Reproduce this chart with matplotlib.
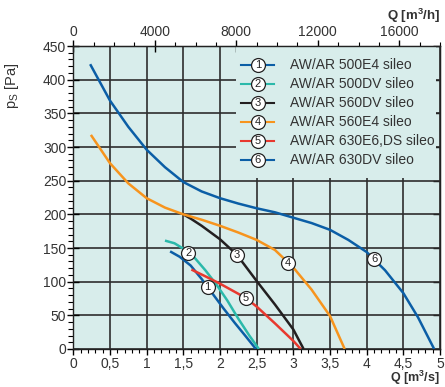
import matplotlib
matplotlib.use("Agg")
import matplotlib.pyplot as plt
from matplotlib.ticker import MultipleLocator, FixedLocator
from matplotlib.patches import Rectangle

# fan curves, Q [m3/s] vs static pressure [Pa]
q1 = [1.32, 1.45, 1.60, 1.75, 1.90, 2.05, 2.20, 2.35, 2.49]
p1 = [145, 137, 124, 104, 82, 60, 39, 19, 0]

q2 = [1.25, 1.38, 1.50, 1.65, 1.80, 1.95, 2.10, 2.25, 2.40, 2.53]
p2 = [161, 157, 149, 136, 117, 96, 72, 45, 20, 0]

q3 = [1.50, 1.61, 1.75, 2.00, 2.23, 2.50, 2.75, 3.00, 3.14]
p3 = [200, 193, 183, 163, 140, 101, 66, 29, 0]

q4 = [0.24, 0.50, 0.75, 1.00, 1.25, 1.50, 1.75, 2.00, 2.25, 2.50, 2.75, 3.00, 3.25, 3.50, 3.70]
p4 = [318, 276, 246, 224, 210, 200, 192, 183, 173, 162, 147, 121, 88, 49, 0]

q5 = [1.61, 1.80, 2.00, 2.20, 2.35, 2.50, 2.75, 3.00, 3.10]
p5 = [118, 108, 97, 85, 76, 63, 38, 12, 0]

q6 = [0.23, 0.50, 0.75, 1.00, 1.25, 1.50, 1.75, 2.00, 2.25, 2.50, 2.75, 3.00,
      3.25, 3.50, 3.75, 4.00, 4.25, 4.50, 4.70, 4.92]
p6 = [423, 369, 330, 296, 270, 248, 234, 224, 216, 209, 203, 195,
      187, 177, 162, 144, 117, 83, 47, 0]

names = ["AW/AR 500E4 sileo", "AW/AR 500DV sileo", "AW/AR 560DV sileo",
         "AW/AR 560E4 sileo", "AW/AR 630E6,DS sileo", "AW/AR 630DV sileo"]
colors = ["#0b5ea6", "#2bb9aa", "#231f20", "#f7941d", "#e8392f", "#0b5ea6"]
# where the circled number sits on each curve
label_q = [1.83, 1.57, 2.23, 2.93, 2.35, 4.10]
label_p = [92, 142, 140, 128, 76, 133]

xticks = [0, 0.5, 1, 1.5, 2, 2.5, 3, 3.5, 4, 4.5, 5]
xticklabels = ["0", "0,5", "1", "1,5", "2", "2,5", "3", "3,5", "4", "4,5", "5"]
yticks = [0, 50, 100, 150, 200, 250, 300, 350, 400, 450]
top_ticks = [0, 4000, 8000, 12000, 16000]

curves = [(q1, p1), (q2, p2), (q3, p3), (q4, p4), (q5, p5), (q6, p6)]

plt.rcParams['font.family'] = ['Liberation Sans', 'DejaVu Sans']
txt = "#333333"
bg = "#d8edeb"

fig = plt.figure(figsize=(4.45, 3.87), dpi=100)
ax = fig.add_axes([0.1647, 0.0982, 0.8241, 0.7829])
ax.set_facecolor(bg)

ax.set_xlim(0, 5)
ax.set_ylim(0, 450)
ax.set_xticks(xticks)
ax.set_xticklabels(xticklabels)
ax.set_yticks(yticks)
ax.xaxis.set_minor_locator(MultipleLocator(0.1))
ax.yaxis.set_minor_locator(MultipleLocator(10))
ax.grid(True, which='major', color="#2e2e2e", lw=1.2)
ax.set_axisbelow(True)

ax.tick_params(axis='x', which='major', direction='out', length=4.5, width=1,
               labelsize=10, labelcolor=txt, pad=1)
ax.tick_params(axis='x', which='minor', direction='out', length=3, width=0.8)
ax.tick_params(axis='y', which='major', direction='inout', length=8, width=1,
               labelsize=10, labelcolor=txt, pad=1)
ax.tick_params(axis='y', which='minor', direction='out', length=3.5, width=0.8)
for s in ax.spines.values():
    s.set_color("#222222")
    s.set_linewidth(1)

# top axis in m3/h
top = ax.secondary_xaxis('top', functions=(lambda q: q * 3600, lambda h: h / 3600))
top.xaxis.set_major_locator(FixedLocator(top_ticks))
top.xaxis.set_minor_locator(MultipleLocator(1000))
top.tick_params(which='major', direction='inout', length=8, width=1,
                labelsize=10, labelcolor=txt, pad=1)
top.tick_params(which='minor', direction='out', length=3, width=0.8)

# right axis: inward major ticks only
right = ax.secondary_yaxis('right')
right.set_yticks(yticks)
right.tick_params(direction='in', length=5, width=1, labelright=False)

# legend box hides the grid behind it
ax.add_patch(Rectangle((0.444, 0.563), 0.545, 0.437, transform=ax.transAxes,
                       facecolor=bg, edgecolor='none', zorder=1.5))

for i, (q, p) in enumerate(curves):
    ax.plot(q, p, color=colors[i], lw=1.8, zorder=3, solid_capstyle='butt',
            solid_joinstyle='round')
    ax.plot(label_q[i], label_p[i], 'o', ms=10, mfc='white', mec='#222222',
            mew=0.9, zorder=4)
    ax.text(label_q[i], label_p[i], str(i + 1), ha='center', va='center',
            fontsize=8, color='#222222', zorder=5)

# legend
leg_y0 = 0.938
leg_dy = 0.063
for i, name in enumerate(names):
    y = leg_y0 - i * leg_dy
    ax.plot([0.458, 0.548], [y, y], color=colors[i], lw=1.5,
            transform=ax.transAxes, zorder=3)
    ax.plot(0.503, y, 'o', ms=10, mfc='white', mec='#222222', mew=0.9,
            transform=ax.transAxes, zorder=4)
    ax.text(0.503, y, str(i + 1), ha='center', va='center', fontsize=8,
            color='#222222', transform=ax.transAxes, zorder=5)
    ax.text(0.591, y, name, ha='left', va='center', fontsize=10, color=txt,
            transform=ax.transAxes, zorder=5)

ax.text(-0.167, 0.87, r'p$_\mathregular{S}$ [Pa]', rotation=90, ha='center',
        va='center', fontsize=10.5, color=txt, transform=ax.transAxes)
ax.text(1.0, -0.11, r'Q [m$^\mathregular{3}$/s]', ha='right', va='baseline',
        fontsize=9, fontweight='bold', color=txt, transform=ax.transAxes)
ax.text(1.0, 1.07, r'Q [m$^\mathregular{3}$/h]', ha='right', va='bottom',
        fontsize=9.5, fontweight='bold', color=txt, transform=ax.transAxes)

fig.savefig("out.png", dpi=100)
